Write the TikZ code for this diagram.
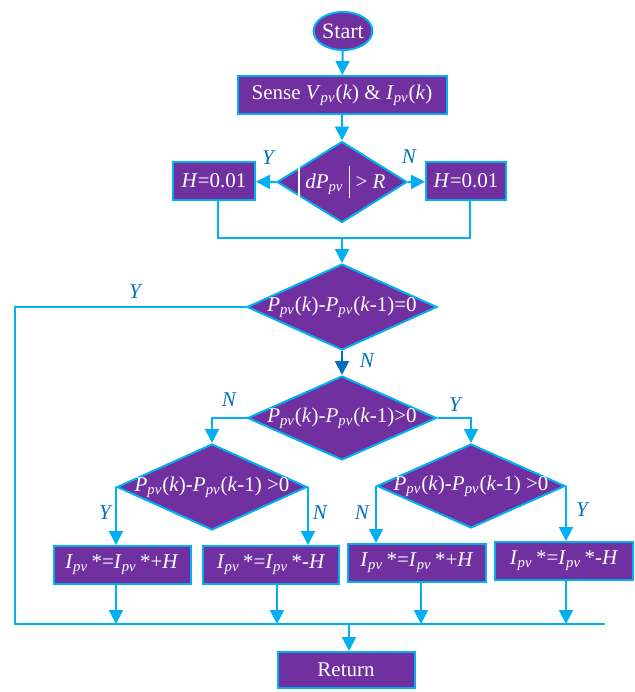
\documentclass[tikz,border=0pt]{standalone}
\usepackage{fontspec}
\setmainfont{Liberation Serif}
\usetikzlibrary{shapes.geometric,arrows.meta}
\definecolor{boxfill}{HTML}{7030A0}
\definecolor{linecyan}{HTML}{00B0F0}
\definecolor{labblue}{HTML}{0070C0}
\newcommand{\pv}{\textsubscript{\textit{pv}}}
\newcommand{\vbar}{\rule[-5pt]{0.8pt}{16pt}}
\newcommand{\dtext}[1]{\makebox[0pt]{#1}}

\begin{document}
\begin{tikzpicture}[x=0.5pt,y=-0.5pt,font=\fontsize{10.5}{12}\selectfont,
  blk/.style={draw=linecyan,line width=1pt,fill=boxfill,text=white,inner sep=0pt,minimum height=19pt},
  dec/.style={blk,diamond},
  lnk/.style={draw=linecyan,line width=1pt},
  arr/.style={lnk,-{Triangle[length=7pt,width=7pt]}},
  lab/.style={text=labblue,font=\fontsize{10.5}{12}\selectfont\itshape}]
  \useasboundingbox (0,0) rectangle (635,692);
  \node[blk,ellipse,minimum width=29pt,font=\fontsize{11}{12}\selectfont] (start) at (343,31) {Start};
  \node[blk,minimum width=104.5pt] (sense) at (342,95) {Sense \textit{V}\pv(\textit{k}) \& \textit{I}\pv(\textit{k})};
  \node[dec,minimum width=65pt,minimum height=40.5pt] (d1) at (342,182) {\dtext{\vbar\ \textit{dP}\pv\ \vbar\ {>} \textit{R}}};
  \node[blk,minimum width=41pt] (hl) at (214,181) {\textit{H}=0.01};
  \node[blk,minimum width=40pt] (hr) at (466,181) {\textit{H}=0.01};
  \node[dec,minimum width=95pt,minimum height=43pt] (d2) at (342,307) {\dtext{\textit{P}\pv(\textit{k})-\textit{P}\pv(\textit{k}-1)=0}};
  \node[dec,minimum width=94.5pt,minimum height=42pt] (d3) at (342,418) {\dtext{\textit{P}\pv(\textit{k})-\textit{P}\pv(\textit{k}-1)>0}};
  \node[dec,minimum width=95pt,minimum height=43pt] (d4) at (212,487) {\dtext{\textit{P}\pv(\textit{k})-\textit{P}\pv(\textit{k}-1) >0}};
  \node[dec,minimum width=94pt,minimum height=42pt] (d5) at (471,486) {\dtext{\textit{P}\pv(\textit{k})-\textit{P}\pv(\textit{k}-1) >0}};
  \node[blk,minimum width=68.5pt] (b1) at (122,565) {\textit{I}\pv\,*=\textit{I}\pv\,*+\textit{H}};
  \node[blk,minimum width=68pt] (b2) at (271,565) {\textit{I}\pv\,*=\textit{I}\pv\,*-\textit{H}};
  \node[blk,minimum width=69pt] (b3) at (417,563) {\textit{I}\pv\,*=\textit{I}\pv\,*+\textit{H}};
  \node[blk,minimum width=69pt] (b4) at (564,561) {\textit{I}\pv\,*=\textit{I}\pv\,*-\textit{H}};
  \node[blk,minimum width=68.5pt,minimum height=18pt] (ret) at (346,670) {Return};
  \coordinate (j1) at (342,238);
  \coordinate (bl) at (15,624);
  \coordinate (br) at (605,624);
  \draw[arr] (start) -- (sense);
  \draw[arr] (sense) -- (d1);
  \draw[arr] (d1.west) -- (hl);
  \draw[arr] (d1.east) -- (hr);
  \draw[lnk] ([xshift=2pt]hl.south) |- (j1) -| ([xshift=2pt]hr.south);
  \draw[arr] (j1) -- (d2.north);
  \draw[lnk] (d2.west) -| (bl) -- (br);
  \draw[arr,draw=labblue] (d2.south) -- (d3.north);
  \draw[arr] (d3.west) -| (d4.north);
  \draw[arr] (d3.east) -| (d5.north);
  \draw[arr] (d4.west) -- (d4.west |- b1.north);
  \draw[arr] (d4.east) -- (d4.east |- b2.north);
  \draw[arr] (d5.west) -- (d5.west |- b3.north);
  \draw[arr] (d5.east) -- (d5.east |- b4.north);
  \draw[arr] (d4.west |- b1.south) -- (d4.west |- bl);
  \draw[arr] ([xshift=3pt]b2.south) -- ([xshift=3pt]b2.south |- bl);
  \draw[arr] ([xshift=2pt]b3.south) -- ([xshift=2pt]b3.south |- bl);
  \draw[arr] (d5.east |- b4.south) -- (d5.east |- bl);
  \draw[arr] ([xshift=1.5pt]ret.north |- bl) -- ([xshift=1.5pt]ret.north);
  % branch labels
  \node[lab] (y1) at (268,158) {Y};
  \node[lab] (n1) at (409,157) {N};
  \node[lab] (y2) at (135,292) {Y};
  \node[lab] (n2) at (367,361) {N};
  \node[lab] (n3) at (229,400) {N};
  \node[lab] (y3) at (455,405) {Y};
  \node[lab] (y4) at (105,513) {Y};
  \node[lab] (n4) at (320,513) {N};
  \node[lab] (n5) at (362,513) {N};
  \node[lab] (y5) at (582,510) {Y};
\end{tikzpicture}
\end{document}
